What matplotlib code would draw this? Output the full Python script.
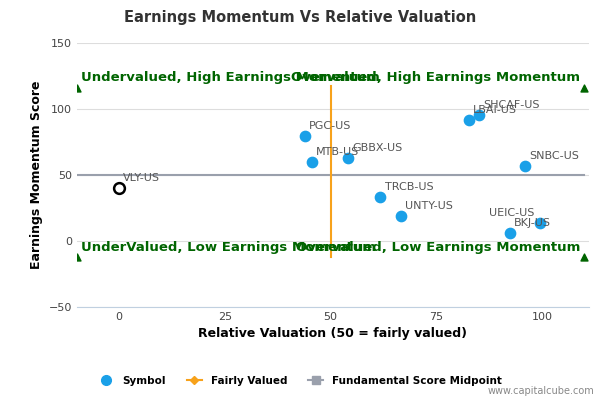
import matplotlib
matplotlib.use("Agg")
import matplotlib.pyplot as plt
from matplotlib.lines import Line2D

names = ["PGC-US","MTB-US","GBBX-US","LBAI-US","SHCAF-US","SNBC-US","TRCB-US","UNTY-US","BKJ-US","UEIC-US"]
xv = [43.9,45.6,54.2,82.7,85.0,96.0,61.8,66.7,92.4,99.5]
yv = [79.5,59.8,62.9,91.7,95.5,56.8,33.3,18.9,6.1,13.6]
hl_name, hl_x, hl_y = "VLY-US", 0.0, 40.2
quad = ["Undervalued, High Earnings Momentum","Overvalued, High Earnings Momentum",
        "UnderValued, Low Earnings Momentum","Overvalued, Low Earnings Momentum"]

fig = plt.figure(figsize=(6,4), dpi=100)
ax = fig.add_axes([0.128, 0.233, 0.853, 0.66])
ax.set_xlim(-10, 111)
ax.set_ylim(-50, 150)
ax.set_xticks([0,25,50,75,100]); ax.set_yticks([-50,0,50,100,150])
ax.tick_params(length=0, labelsize=8, colors="#444")
ax.grid(axis="y", color="#dddddd", lw=0.8)
for s in ["top","right","left"]: ax.spines[s].set_visible(False)
ax.spines["bottom"].set_color("#c0d0e0")
ax.set_axisbelow(True)

ax.plot([-10,110],[50,50], color="#9aa0ac", lw=1.5)
ax.plot([50,50],[-12,117], color="#f7a21b", lw=1.5)
ax.scatter([-10,110,-10,110],[116,116,-12,-12], marker="^", color="#006400", s=25, zorder=3)
ax.scatter(xv, yv, color="#1aa0e8", s=55, zorder=4)
ax.scatter([hl_x],[hl_y], facecolor="white", edgecolor="black", s=60, lw=1.8, zorder=4)
for n,x,y in zip(names+[hl_name], xv+[hl_x], yv+[hl_y]):
    dx, dy = 1, 5
    if n == "UEIC-US": dx, dy = -12, 5
    ax.text(x+dx, y+dy, n, fontsize=8, color="#555", zorder=5)
kw = dict(fontsize=9.5, fontweight="bold", color="#006400", va="center")
ax.text(-9, 124, quad[0], **kw); ax.text(109, 124, quad[1], ha="right", **kw)
ax.text(-9, -5, quad[2], **kw); ax.text(109, -5, quad[3], ha="right", **kw)

ax.set_xlabel("Relative Valuation (50 = fairly valued)", fontsize=9, fontweight="bold")
ax.set_ylabel("Earnings Momentum Score", fontsize=9, fontweight="bold")
fig.text(0.5, 0.945, "Earnings Momentum Vs Relative Valuation", ha="center", fontsize=10.5, fontweight="bold", color="#333")
h = [Line2D([],[],marker="o",ls="",color="#1aa0e8",ms=7),
     Line2D([],[],marker="D",color="#f7a21b",ms=4),
     Line2D([],[],marker="s",color="#9aa0ac",ms=6)]
fig.legend(h, ["Symbol","Fairly Valued","Fundamental Score Midpoint"], loc="center",
           bbox_to_anchor=(0.5,0.048), ncol=3, frameon=False,
           prop={"size":7.5,"weight":"bold"}, handlelength=1.5)
fig.text(0.99, 0.015, "www.capitalcube.com", ha="right", fontsize=7, color="#888")
fig.savefig("out.png")
